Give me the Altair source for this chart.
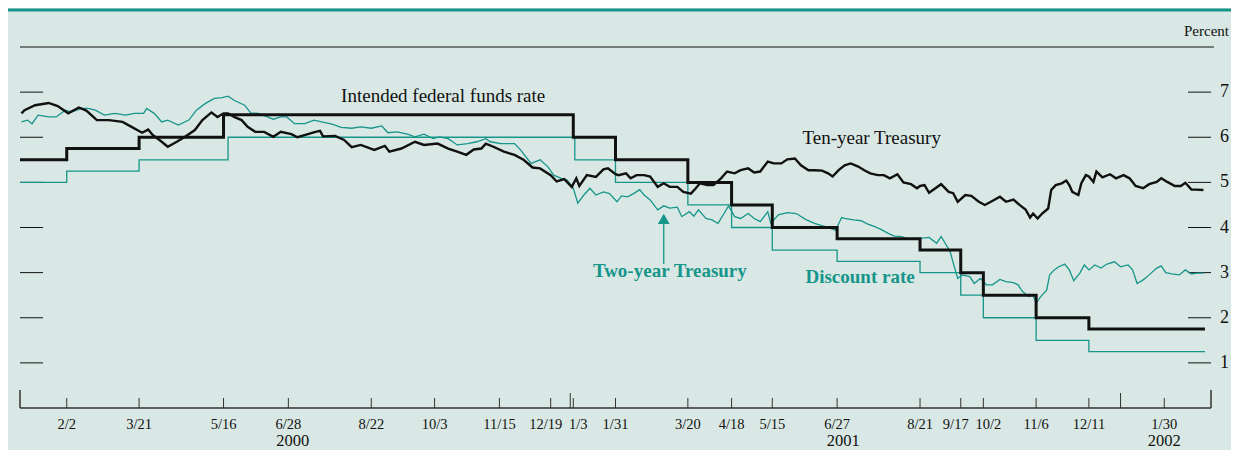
import altair as alt
import pandas as pd

TEAL = "#16958a"
BG = "#d9e8e4"
INK = "#111111"
FONT = "Liberation Serif"

W, H = 1191, 361

# ---------------- data ----------------
ff_dates = ["2000-01-02", "2000-02-02", "2000-03-21", "2000-05-16", "2001-01-03", "2001-01-31",
            "2001-03-20", "2001-04-18", "2001-05-15", "2001-06-27", "2001-08-21", "2001-09-17",
            "2001-10-02", "2001-11-06", "2001-12-11", "2002-02-26"]
ff_values = [5.5, 5.75, 6.0, 6.5, 6.0, 5.5, 5.0, 4.5, 4.0, 3.75, 3.5, 3.0, 2.5, 2.0, 1.75, 1.75]

dr_dates = ["2000-01-02", "2000-02-02", "2000-03-21", "2000-05-19", "2001-01-04", "2001-01-31",
            "2001-03-20", "2001-04-18", "2001-05-15", "2001-06-27", "2001-08-21", "2001-09-17",
            "2001-10-02", "2001-11-06", "2001-12-11", "2002-02-26"]
dr_values = [5.0, 5.25, 5.5, 6.0, 5.5, 5.0, 4.5, 4.0, 3.5, 3.25, 3.0, 2.5, 2.0, 1.5, 1.25, 1.25]

ten_dates = [
    "2000-01-03", "2000-01-05", "2000-01-12", "2000-01-21", "2000-01-27", "2000-02-03", "2000-02-10",
    "2000-02-15", "2000-02-22", "2000-03-01", "2000-03-10", "2000-03-16", "2000-03-23", "2000-03-27",
    "2000-03-30", "2000-04-05", "2000-04-09", "2000-04-15", "2000-04-20", "2000-04-27", "2000-05-02",
    "2000-05-08", "2000-05-12", "2000-05-16", "2000-05-19", "2000-05-23", "2000-05-28", "2000-06-01",
    "2000-06-06", "2000-06-12", "2000-06-18", "2000-06-23", "2000-06-30", "2000-07-04", "2000-07-11",
    "2000-07-16", "2000-07-19", "2000-07-21", "2000-07-29", "2000-08-04", "2000-08-09", "2000-08-15",
    "2000-08-24", "2000-08-31", "2000-09-03", "2000-09-11", "2000-09-20", "2000-09-26", "2000-10-05",
    "2000-10-12", "2000-10-18", "2000-10-24", "2000-10-29", "2000-11-03", "2000-11-06", "2000-11-11",
    "2000-11-18", "2000-11-25", "2000-12-01", "2000-12-07", "2000-12-12", "2000-12-19", "2000-12-23",
    "2000-12-28", "2001-01-02", "2001-01-05", "2001-01-07", "2001-01-12", "2001-01-18", "2001-01-23",
    "2001-01-26", "2001-01-31", "2001-02-02", "2001-02-07", "2001-02-10", "2001-02-14", "2001-02-19",
    "2001-02-23", "2001-02-28", "2001-03-04", "2001-03-08", "2001-03-13", "2001-03-17", "2001-03-22",
    "2001-03-25", "2001-03-28", "2001-04-02", "2001-04-06", "2001-04-11", "2001-04-15", "2001-04-20",
    "2001-04-24", "2001-04-29", "2001-05-03", "2001-05-07", "2001-05-12", "2001-05-16", "2001-05-21",
    "2001-05-25", "2001-05-30", "2001-06-03", "2001-06-08", "2001-06-12", "2001-06-17", "2001-06-21",
    "2001-06-24", "2001-06-28", "2001-07-02", "2001-07-06", "2001-07-11", "2001-07-15", "2001-07-19",
    "2001-07-24", "2001-07-28", "2001-08-01", "2001-08-06", "2001-08-10", "2001-08-15", "2001-08-19",
    "2001-08-21", "2001-08-24", "2001-08-27", "2001-09-04", "2001-09-09", "2001-09-12", "2001-09-15",
    "2001-09-20", "2001-09-24", "2001-09-29", "2001-10-03", "2001-10-07", "2001-10-13", "2001-10-17",
    "2001-10-22", "2001-10-26", "2001-10-30", "2001-11-02", "2001-11-04", "2001-11-07", "2001-11-10",
    "2001-11-14", "2001-11-16", "2001-11-19", "2001-11-23", "2001-11-26", "2001-11-28", "2001-11-30",
    "2001-12-04", "2001-12-06", "2001-12-09", "2001-12-11", "2001-12-14", "2001-12-16", "2001-12-20",
    "2001-12-25", "2001-12-29", "2002-01-03", "2002-01-07", "2002-01-11", "2002-01-16", "2002-01-20",
    "2002-01-25", "2002-01-28", "2002-02-01", "2002-02-06", "2002-02-10", "2002-02-13", "2002-02-17",
    "2002-02-20", "2002-02-25"]
ten_values = [
    6.53, 6.60, 6.71, 6.76, 6.69, 6.53, 6.66,
    6.59, 6.38, 6.38, 6.34, 6.23, 6.10, 6.17,
    6.05, 5.90, 5.79, 5.90, 6.00, 6.16, 6.38,
    6.55, 6.45, 6.53, 6.53, 6.45, 6.38, 6.23,
    6.12, 6.12, 6.01, 6.12, 6.07, 6.00, 6.07,
    6.12, 6.14, 6.02, 6.03, 5.94, 5.78, 5.83,
    5.72, 5.81, 5.68, 5.75, 5.90, 5.83, 5.86,
    5.75, 5.68, 5.61, 5.73, 5.75, 5.86, 5.79,
    5.68, 5.61, 5.50, 5.33, 5.31, 5.16, 5.02,
    5.07, 4.90, 5.09, 4.92, 5.16, 5.12, 5.29,
    5.31, 5.18, 5.16, 5.20, 5.09, 5.16, 5.16,
    5.13, 4.90, 4.98, 4.90, 4.90, 4.79, 4.75,
    4.86, 4.98, 4.94, 4.94, 5.09, 5.24, 5.20,
    5.27, 5.31, 5.22, 5.24, 5.46, 5.42, 5.42,
    5.51, 5.53, 5.38, 5.27, 5.27, 5.26, 5.20,
    5.13, 5.27, 5.38, 5.42, 5.35, 5.27, 5.20,
    5.16, 5.16, 5.09, 5.18, 5.00, 4.96, 4.87,
    4.92, 4.94, 4.77, 4.96, 4.79, 4.76, 4.57,
    4.72, 4.70, 4.57, 4.50, 4.57, 4.68, 4.57,
    4.62, 4.50, 4.40, 4.22, 4.31, 4.20, 4.31,
    4.42, 4.83, 4.94, 4.98, 5.04, 4.94, 4.79,
    4.72, 4.98, 5.16, 5.13, 5.01, 5.24, 5.11,
    5.18, 5.09, 5.16, 5.09, 4.92, 4.87, 4.96,
    5.01, 5.09, 5.01, 4.92, 4.92, 4.99, 4.84,
    4.84, 4.83]

two_dates = [
    "2000-01-03", "2000-01-07", "2000-01-10", "2000-01-14", "2000-01-21", "2000-01-26", "2000-02-01",
    "2000-02-05", "2000-02-12", "2000-02-16", "2000-02-21", "2000-02-27", "2000-03-05", "2000-03-12",
    "2000-03-18", "2000-03-24", "2000-03-26", "2000-03-31", "2000-04-05", "2000-04-09", "2000-04-16",
    "2000-04-23", "2000-04-28", "2000-05-04", "2000-05-10", "2000-05-15", "2000-05-19", "2000-05-23",
    "2000-05-30", "2000-06-03", "2000-06-08", "2000-06-14", "2000-06-18", "2000-06-23", "2000-06-27",
    "2000-07-02", "2000-07-09", "2000-07-15", "2000-07-20", "2000-07-27", "2000-08-02", "2000-08-09",
    "2000-08-15", "2000-08-22", "2000-08-29", "2000-09-02", "2000-09-08", "2000-09-15", "2000-09-20",
    "2000-09-26", "2000-10-02", "2000-10-06", "2000-10-12", "2000-10-18", "2000-10-25", "2000-10-31",
    "2000-11-06", "2000-11-09", "2000-11-16", "2000-11-25", "2000-11-29", "2000-12-06", "2000-12-12",
    "2000-12-17", "2000-12-21", "2000-12-26", "2000-12-30", "2001-01-03", "2001-01-06", "2001-01-10",
    "2001-01-14", "2001-01-18", "2001-01-23", "2001-01-27", "2001-02-01", "2001-02-04", "2001-02-08",
    "2001-02-12", "2001-02-16", "2001-02-19", "2001-02-23", "2001-02-28", "2001-03-04", "2001-03-08",
    "2001-03-13", "2001-03-16", "2001-03-21", "2001-03-24", "2001-03-27", "2001-04-01", "2001-04-05",
    "2001-04-09", "2001-04-13", "2001-04-16", "2001-04-20", "2001-04-24", "2001-04-29", "2001-05-03",
    "2001-05-07", "2001-05-12", "2001-05-14", "2001-05-19", "2001-05-25", "2001-05-31", "2001-06-06",
    "2001-06-12", "2001-06-19", "2001-06-26", "2001-06-30", "2001-07-02", "2001-07-08", "2001-07-13",
    "2001-07-17", "2001-07-22", "2001-07-26", "2001-07-31", "2001-08-04", "2001-08-09", "2001-08-13",
    "2001-08-17", "2001-08-21", "2001-08-27", "2001-09-01", "2001-09-04", "2001-09-06", "2001-09-10",
    "2001-09-13", "2001-09-15", "2001-09-18", "2001-09-23", "2001-09-26", "2001-09-30", "2001-10-04",
    "2001-10-08", "2001-10-13", "2001-10-17", "2001-10-22", "2001-10-25", "2001-10-28", "2001-11-01",
    "2001-11-04", "2001-11-06", "2001-11-09", "2001-11-13", "2001-11-15", "2001-11-18", "2001-11-21",
    "2001-11-25", "2001-11-28", "2001-12-01", "2001-12-05", "2001-12-08", "2001-12-11", "2001-12-15",
    "2001-12-19", "2001-12-23", "2001-12-28", "2002-01-01", "2002-01-06", "2002-01-09", "2002-01-12",
    "2002-01-16", "2002-01-20", "2002-01-25", "2002-01-28", "2002-01-31", "2002-02-04", "2002-02-09",
    "2002-02-13", "2002-02-17", "2002-02-21", "2002-02-25"]
two_values = [
    6.34, 6.38, 6.30, 6.49, 6.45, 6.45, 6.60,
    6.56, 6.64, 6.64, 6.60, 6.49, 6.53, 6.49,
    6.53, 6.53, 6.64, 6.53, 6.34, 6.38, 6.27,
    6.38, 6.60, 6.75, 6.86, 6.88, 6.91, 6.82,
    6.71, 6.54, 6.53, 6.45, 6.40, 6.45, 6.45,
    6.30, 6.30, 6.38, 6.34, 6.29, 6.22, 6.20,
    6.23, 6.20, 6.25, 6.10, 6.12, 6.07, 6.01,
    6.07, 5.97, 6.01, 5.97, 5.83, 5.86, 5.90,
    5.97, 5.90, 5.86, 5.86, 5.72, 5.42, 5.50,
    5.35, 5.16, 5.09, 5.05, 4.87, 4.54, 4.72,
    4.87, 4.72, 4.79, 4.75, 4.57, 4.70, 4.68,
    4.75, 4.84, 4.72, 4.61, 4.39, 4.48, 4.43,
    4.45, 4.24, 4.35, 4.25, 4.39, 4.20, 4.17,
    4.09, 4.31, 4.48, 4.24, 4.20, 4.31, 4.20,
    4.13, 4.35, 4.09, 4.28, 4.33, 4.31, 4.18,
    4.09, 4.02, 3.94, 4.22, 4.20, 4.17, 4.15,
    4.08, 4.02, 3.96, 3.87, 3.81, 3.80, 3.74,
    3.74, 3.76, 3.78, 3.65, 3.80, 3.69, 3.46,
    3.10, 2.87, 2.95, 2.91, 2.76, 2.87, 2.73,
    2.73, 2.85, 2.80, 2.78, 2.73, 2.58, 2.47,
    2.50, 2.32, 2.47, 2.61, 2.95, 3.06, 3.13,
    3.19, 3.06, 2.82, 2.99, 3.17, 3.06, 3.17,
    3.10, 3.19, 3.24, 3.13, 3.17, 3.06, 2.76,
    2.84, 2.95, 3.10, 3.15, 3.00, 2.97, 2.95,
    3.06, 2.97, 2.99, 2.99]

# x-axis (FOMC meeting dates); labels pushed apart where they crowd
tick_dates = ["2000-02-02", "2000-03-21", "2000-05-16", "2000-06-28", "2000-08-22", "2000-10-03",
              "2000-11-15", "2000-12-19", "2001-01-03", "2001-01-31", "2001-03-20", "2001-04-18",
              "2001-05-15", "2001-06-27", "2001-08-21", "2001-09-17", "2001-10-02", "2001-11-06",
              "2001-12-11", "2002-01-30"]
tick_labels = ["2/2", "3/21", "5/16", "6/28", "8/22", "10/3", "11/15", "12/19", "1/3", "1/31",
               "3/20", "4/18", "5/15", "6/27", "8/21", "9/17", "10/2", "11/6", "12/11", "1/30"]
shift_left = ["12/19", "9/17"]
shift_right = ["1/3", "10/2"]
year_dates = ["2000-07-01", "2001-07-01", "2002-01-30"]
year_labels = ["2000", "2001", "2002"]
year_bounds = ["2001-01-01", "2002-01-01"]
x_ends = ["2000-01-02", "2002-03-02"]

y_ticks = [1, 2, 3, 4, 5, 6, 7]

# annotations (date, percent)
ann_black = {"text": ["Intended federal funds rate", "Ten-year Treasury"],
             "date": ["2000-08-02", "2001-06-04"], "value": [6.79, 5.85]}
ann_teal = {"text": ["Two-year Treasury", "Discount rate"],
            "date": ["2001-01-16", "2001-06-06"], "value": [2.90, 2.78]}
arrow_date = "2001-03-04"
arrow_from, arrow_to, arrow_head = 3.19, 4.08, 4.19

# ---------------- frames ----------------
ff = pd.DataFrame({"date": ff_dates, "value": ff_values})
dr = pd.DataFrame({"date": dr_dates, "value": dr_values})
ten = pd.DataFrame({"date": ten_dates, "value": ten_values})
two = pd.DataFrame({"date": two_dates, "value": two_values})
ticks = pd.DataFrame({"date": tick_dates, "label": tick_labels})
ticks["shift"] = ["l" if t in shift_left else ("r" if t in shift_right else "c") for t in tick_labels]
years = pd.DataFrame({"date": year_dates, "label": year_labels})
ybounds = pd.DataFrame({"date": year_bounds})
ends = pd.DataFrame({"date": x_ends})
yt = pd.DataFrame({"value": y_ticks, "label": [str(v) for v in y_ticks]})

xscale = alt.Scale(type="utc",
                   domain=[alt.DateTime(year=2000, month=1, date=2, utc=True),
                           alt.DateTime(year=2002, month=3, date=2, utc=True)])
yscale = alt.Scale(domain=[0, 8])


def X(field="date"):
    return alt.X(field, type="temporal", scale=xscale, axis=None)


def Y(field="value"):
    return alt.Y(field, type="quantitative", scale=yscale, axis=None)


one = pd.DataFrame({"k": [0]})

top_teal = alt.Chart(one).mark_rule(color=TEAL, strokeWidth=3).encode(
    x=alt.value(-12), x2=alt.value(W + 20), y=alt.value(-37))
top_black = alt.Chart(one).mark_rule(color=INK, strokeWidth=1).encode(
    x=alt.value(0), x2=alt.value(W + 3), y=alt.value(0))
percent = alt.Chart(one).mark_text(text="Percent", font=FONT, fontSize=15, align="right",
                                    baseline="alphabetic", color=INK).encode(
    x=alt.value(W + 18), y=alt.value(-11))

left_ticks = alt.Chart(yt).mark_rule(color=INK, strokeWidth=1).encode(
    y=Y(), x=alt.value(0), x2=alt.value(23))
right_ticks = alt.Chart(yt).mark_rule(color=INK, strokeWidth=1).encode(
    y=Y(), x=alt.value(W - 23), x2=alt.value(W))
right_labels = alt.Chart(yt).mark_text(font=FONT, fontSize=18, align="left", baseline="middle",
                                       color=INK).encode(
    y=Y(), x=alt.value(W + 9), text="label:N")

x_base = alt.Chart(one).mark_rule(color="#333333", strokeWidth=1.5).encode(
    x=alt.value(0), x2=alt.value(W), y=alt.value(H))
x_ticks = alt.Chart(ticks).mark_rule(color="#333333", strokeWidth=1).encode(
    x=X(), y=alt.value(H - 10), y2=alt.value(H))
x_ybounds = alt.Chart(ybounds).mark_rule(color="#333333", strokeWidth=1).encode(
    x=X(), y=alt.value(H - 15), y2=alt.value(H))
x_ends_r = alt.Chart(ends).mark_rule(color="#333333", strokeWidth=1.5).encode(
    x=X(), y=alt.value(H - 18), y2=alt.value(H))


def tick_text(shift, dx):
    return alt.Chart(ticks).transform_filter(f"datum.shift == '{shift}'").mark_text(
        font=FONT, fontSize=14.5, align="center", baseline="alphabetic", color=INK, dx=dx).encode(
        x=X(), y=alt.value(H + 21), text="label:N")


lab_main = tick_text("c", 0)
lab_left = tick_text("l", -5)
lab_right = tick_text("r", 5)
lab_years = alt.Chart(years).mark_text(font=FONT, fontSize=16.5, align="center",
                                       baseline="alphabetic", color=INK).encode(
    x=X(), y=alt.value(H + 38), text="label:N")

dr_line = alt.Chart(dr).mark_line(interpolate="step-after", color=TEAL, strokeWidth=1.3).encode(
    x=X(), y=Y())
two_line = alt.Chart(two).mark_line(color=TEAL, strokeWidth=1.3).encode(x=X(), y=Y())
ten_line = alt.Chart(ten).mark_line(color=INK, strokeWidth=2.4).encode(x=X(), y=Y())
ff_line = alt.Chart(ff).mark_line(interpolate="step-after", color=INK, strokeWidth=3).encode(
    x=X(), y=Y())

txt_black = alt.Chart(pd.DataFrame(ann_black)).mark_text(
    font=FONT, fontSize=19, align="left", baseline="alphabetic", color=INK).encode(
    x=X(), y=Y(), text="text:N")
txt_teal = alt.Chart(pd.DataFrame(ann_teal)).mark_text(
    font=FONT, fontSize=19, fontWeight="bold", align="left", baseline="alphabetic",
    color=TEAL).encode(x=X(), y=Y(), text="text:N")

arrow_df = pd.DataFrame({"date": [arrow_date], "lo": [arrow_from], "hi": [arrow_to],
                         "head": [arrow_head]})
arrow_shaft = alt.Chart(arrow_df).mark_rule(color=TEAL, strokeWidth=1.3).encode(
    x=X(), y=Y("lo"), y2="hi:Q")
arrow_tip = alt.Chart(arrow_df).mark_point(shape="triangle-up", filled=True, color=TEAL,
                                           size=140, opacity=1).encode(x=X(), y=Y("head"))

chart = alt.layer(
    top_teal, top_black, percent,
    left_ticks, right_ticks, right_labels,
    x_base, x_ticks, x_ybounds, x_ends_r,
    lab_main, lab_left, lab_right, lab_years,
    dr_line, two_line, ten_line, ff_line,
    txt_black, txt_teal, arrow_shaft, arrow_tip,
).properties(
    width=W, height=H,
    autosize=alt.AutoSizeParams(type="none"),
    padding={"left": 12, "top": 39, "right": 20, "bottom": 42},
    background=BG,
).configure_view(strokeWidth=0)

chart.save("out.html", embed_options={"renderer": "svg", "actions": False})
